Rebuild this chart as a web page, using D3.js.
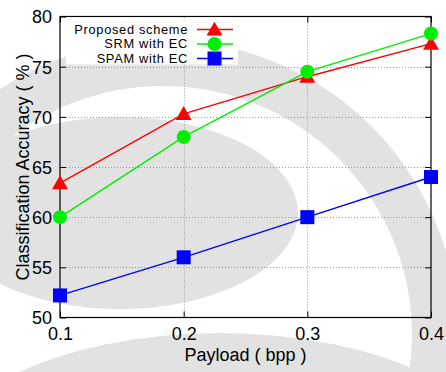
<!DOCTYPE html>
<html>
<head>
<meta charset="utf-8">
<script src="https://cdn.jsdelivr.net/npm/d3@7"></script>
<style>
  html, body { margin: 0; padding: 0; background: #ffffff; }
  svg { display: block; font-family: "Liberation Sans", Arial, Helvetica, sans-serif; }
</style>
</head>
<body>
<svg id="chart" width="446" height="372"></svg>
<script>
const payload = [0.1, 0.2, 0.3, 0.4];
const xTicks = [0.1, 0.2, 0.3, 0.4];
const yTicks = [50, 55, 60, 65, 70, 75, 80];
const seriesNames = ["Proposed scheme", "SRM with EC", "SPAM with EC"];
const proposed = [63.4, 70.3, 74.0, 77.3];
const srm = [60.0, 68.0, 74.5, 78.3];
const spam = [52.2, 56.0, 60.0, 64.0];
const colors = ["#ff0000", "#00ee00", "#0000ff"];
const symbols = ["triangle", "circle", "square"];

const series = [proposed, srm, spam].map((v, i) => ({
  name: seriesNames[i], values: v, color: colors[i], symbol: symbols[i]
}));

const svg = d3.select("#chart");
const L = 60, R = 431, T = 16.5, B = 317.5;
const x = d3.scaleLinear().domain([0.1, 0.4]).range([L, R]);
const y = d3.scaleLinear().domain([50, 80]).range([B, T]);

// faint background watermark (decorative)
const wm = svg.append("g").attr("fill", "none").attr("stroke", "#e2e2e2");
wm.append("circle").attr("cx", 163).attr("cy", 335).attr("r", 272).attr("stroke-width", 46);
wm.append("ellipse").attr("cx", 120).attr("cy", 213).attr("rx", 178).attr("ry", 96)
  .attr("fill", "#e2e2e2").attr("stroke", "none");
wm.append("ellipse").attr("cx", 220).attr("cy", 485).attr("rx", 300).attr("ry", 152)
  .attr("fill", "#e2e2e2").attr("stroke", "none");

// grid
const grid = svg.append("g").attr("stroke", "#9a9a9a").attr("stroke-width", 1).attr("stroke-dasharray", "1,2");
grid.selectAll(".gy").data(yTicks.filter(t => t > 50 && t < 80)).enter().append("line")
  .attr("x1", L).attr("x2", R).attr("y1", d => Math.round(y(d)) + 0.5).attr("y2", d => Math.round(y(d)) + 0.5);
grid.selectAll(".gx").data(xTicks.filter(t => t > 0.1 && t < 0.4)).enter().append("line")
  .attr("y1", T).attr("y2", B).attr("x1", d => Math.round(x(d)) + 0.5).attr("x2", d => Math.round(x(d)) + 0.5);

// axes (inward ticks on all sides)
const axL = svg.append("g").attr("transform", `translate(${L},0)`)
  .call(d3.axisLeft(y).tickValues(yTicks).tickSize(-6).tickPadding(8).tickFormat(d3.format("d")));
const axR = svg.append("g").attr("transform", `translate(${R},0)`)
  .call(d3.axisRight(y).tickValues(yTicks).tickSize(-6).tickFormat(""));
const axB = svg.append("g").attr("transform", `translate(0,${B})`)
  .call(d3.axisBottom(x).tickValues(xTicks).tickSize(-6).tickPadding(10).tickFormat(d3.format(".1f")));
const axT = svg.append("g").attr("transform", `translate(0,${T})`)
  .call(d3.axisTop(x).tickValues(xTicks).tickSize(-6).tickFormat(""));
[axL, axR, axB, axT].forEach(a => {
  a.select(".domain").remove();
  a.selectAll("line").attr("stroke", "#000").attr("stroke-width", 1);
  a.selectAll("text").attr("fill", "#000").attr("font-size", 18)
    .attr("font-family", '"Liberation Sans", Arial, sans-serif');
});
axL.selectAll("text").attr("dy", "0.36em").attr("x", -8);
axB.selectAll("text").attr("dy", "0").attr("y", 22);

// border
svg.append("rect").attr("x", L).attr("y", T).attr("width", R - L).attr("height", B - T)
  .attr("fill", "none").attr("stroke", "#000").attr("stroke-width", 1.2);

// axis titles
svg.append("text").attr("x", (L + R) / 2).attr("y", 361).attr("text-anchor", "middle")
  .attr("font-size", 18).attr("fill", "#000").text("Payload ( bpp )");
svg.append("text").attr("transform", `translate(28.5,${(T + B) / 2}) rotate(-90)`)
  .attr("text-anchor", "middle").attr("font-size", 18).attr("fill", "#000")
  .text("Classification Accuracy ( % )");

// legend background
const lg = svg.append("g");
lg.append("rect").attr("x", 66).attr("y", T + 1).attr("width", 172).attr("height", 47).attr("fill", "#fff");

// lines
const line = d3.line().x((d, i) => x(payload[i])).y(d => y(d));
const symGen = {
  triangle: d3.symbol().type(d3.symbolTriangle).size(110),
  circle: d3.symbol().type(d3.symbolCircle).size(154),
  square: d3.symbol().type(d3.symbolSquare).size(196)
};
function drawMarker(g, s, cx, cy) {
  const dy = s.symbol === "triangle" ? 1.5 : 0;
  g.append("path").attr("d", symGen[s.symbol]())
    .attr("transform", `translate(${cx},${cy + dy})`).attr("fill", s.color);
}
series.forEach(s => {
  svg.append("path").datum(s.values).attr("d", line).attr("fill", "none")
    .attr("stroke", s.color).attr("stroke-width", 1.4);
});
series.forEach(s => {
  const g = svg.append("g");
  s.values.forEach((v, i) => drawMarker(g, s, x(payload[i]), y(v)));
});

// legend
const rowY = [29.5, 44, 58.5];
series.forEach((s, i) => {
  lg.append("text").attr("x", 188).attr("y", rowY[i]).attr("dy", "0.35em").attr("text-anchor", "end")
    .attr("font-size", 12.8).attr("letter-spacing", "0.7px").attr("fill", "#000").text(s.name);
  lg.append("line").attr("x1", 197).attr("x2", 233).attr("y1", rowY[i]).attr("y2", rowY[i])
    .attr("stroke", s.color).attr("stroke-width", 1.4);
  drawMarker(lg, s, 214.5, rowY[i]);
});
</script>
</body>
</html>
